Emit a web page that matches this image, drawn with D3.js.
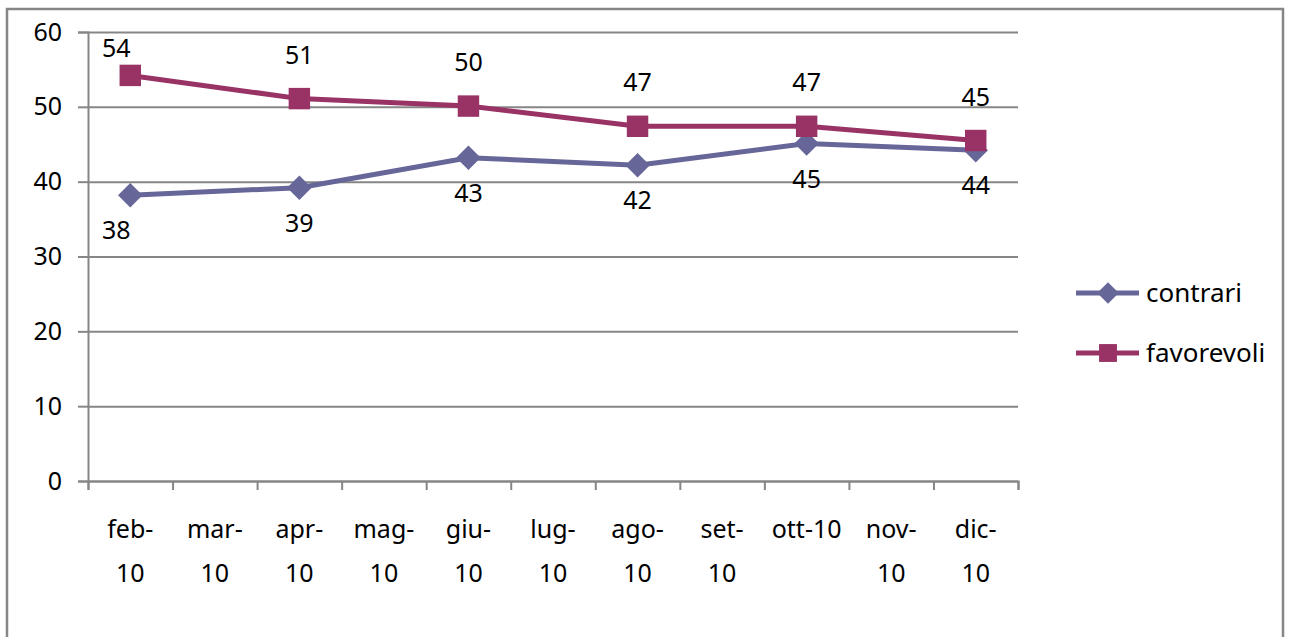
<html>
<script src="https://d3js.org/d3.v7.min.js"></script>
<style>
    body { margin: 0; background: white; }
    text { font-family: "Noto Sans", sans-serif; fill: #000; }
</style>
<body>
<svg id="visual" width="1290" height="637"></svg>
<script>
    // months on the x axis (only every other month has a survey value)
    const months = ["feb-10", "mar-10", "apr-10", "mag-10", "giu-10", "lug-10",
                    "ago-10", "set-10", "ott-10", "nov-10", "dic-10"];
    const contrari   = [38.2, null, 39.2, null, 43.2, null, 42.2, null, 45.1, null, 44.2];
    const favorevoli = [54.2, null, 51.1, null, 50.1, null, 47.4, null, 47.4, null, 45.5];
    const contrariLabels   = ["38", "", "39", "", "43", "", "42", "", "45", "", "44"];
    const favorevoliLabels = ["54", "", "51", "", "50", "", "47", "", "47", "", "45"];
    const yTicks = [0, 10, 20, 30, 40, 50, 60];

    const svg = d3.select("#visual");
    const plotLeft = 88, plotRight = 1018, plotTop = 32, plotBottom = 481;
    const grey = "#868686";
    const fontSize = "25px";

    // outer frame
    svg.append("rect")
        .attr("x", 7).attr("y", 9)
        .attr("width", 1276).attr("height", 640)
        .attr("fill", "white")
        .attr("stroke", grey).attr("stroke-width", 2.5);

    var x = d3.scaleLinear().domain([0, months.length]).range([plotLeft, plotRight]);
    var y = d3.scaleLinear().domain([0, 60]).range([plotBottom, plotTop]);

    // grid lines
    svg.append("g")
        .attr("transform", "translate(" + plotLeft + ",0)")
        .call(d3.axisLeft(y).tickValues(yTicks).tickSize(-(plotRight - plotLeft)).tickFormat(""))
        .call(g => g.select(".domain").remove())
        .selectAll("line").attr("stroke", grey).attr("stroke-width", 2);

    // y axis
    var yAxis = svg.append("g")
        .attr("transform", "translate(" + plotLeft + ",0)")
        .call(d3.axisLeft(y).tickValues(yTicks).tickSize(10).tickPadding(16));
    yAxis.select(".domain").attr("stroke", grey).attr("stroke-width", 2);
    yAxis.selectAll("line").attr("stroke", grey).attr("stroke-width", 2);
    yAxis.selectAll("text").style("font-size", fontSize).style("font-family", "Noto Sans");

    // x axis: ticks at month boundaries
    var xAxis = svg.append("g")
        .attr("transform", "translate(0," + plotBottom + ")")
        .call(d3.axisBottom(x).tickValues(d3.range(months.length + 1)).tickSize(9).tickFormat(""));
    xAxis.select(".domain").attr("stroke", grey).attr("stroke-width", 2);
    xAxis.selectAll("line").attr("stroke", grey).attr("stroke-width", 2);

    // month labels, wrapped after the dash (Excel kept ott-10 on one line)
    months.forEach(function (m, i) {
        var lines = (m == "ott-10") ? [m] : [m.split("-")[0] + "-", m.split("-")[1]];
        var t = svg.append("text")
            .attr("x", x(i + 0.5))
            .attr("y", 538)
            .attr("text-anchor", "middle")
            .style("font-size", fontSize);
        lines.forEach(function (l, j) {
            t.append("tspan").attr("x", x(i + 0.5)).attr("dy", j == 0 ? 0 : 44).text(l);
        });
    });

    // a diamond is a square turned by 45 degrees
    const series = [
        { name: "contrari", values: contrari, labels: contrariLabels, color: "#666699", shape: d3.symbolSquare, size: 300, rotate: 45, labelDy: 44 },
        { name: "favorevoli", values: favorevoli, labels: favorevoliLabels, color: "#993366", shape: d3.symbolSquare, size: 460, rotate: 0, labelDy: -35 }
    ];

    series.forEach(function (s) {
        var pts = s.values.map((v, i) => ({ i: i, v: v, label: s.labels[i] })).filter(d => d.v != null);

        svg.append("path")
            .datum(pts)
            .attr("fill", "none")
            .attr("stroke", s.color)
            .attr("stroke-width", 5)
            .attr("d", d3.line().x(d => x(d.i + 0.5)).y(d => y(d.v)));

        svg.selectAll(null)
            .data(pts)
            .enter()
            .append("path")
            .attr("transform", d => "translate(" + x(d.i + 0.5) + "," + y(d.v) + ") rotate(" + s.rotate + ")")
            .attr("d", d3.symbol().type(s.shape).size(s.size))
            .attr("fill", s.color);

        // labels are kept inside the plot area, like Excel does
        svg.selectAll(null)
            .data(pts)
            .enter()
            .append("text")
            .attr("x", d => x(d.i + 0.5) - (d.i == 0 ? 14 : 0))
            .attr("y", d => Math.max(y(d.v) + s.labelDy, plotTop + 25))
            .attr("text-anchor", "middle")
            .style("font-size", fontSize)
            .text(d => d.label);
    });

    // legend
    var legend = svg.append("g").attr("transform", "translate(1076,293)");
    series.forEach(function (s, k) {
        var g = legend.append("g").attr("transform", "translate(0," + (k * 60) + ")");
        g.append("line").attr("x1", 0).attr("x2", 63).attr("y1", 0).attr("y2", 0)
            .attr("stroke", s.color).attr("stroke-width", 5);
        g.append("path")
            .attr("transform", "translate(32,0) rotate(" + s.rotate + ")")
            .attr("d", d3.symbol().type(s.shape).size(s.name == "contrari" ? 230 : 320))
            .attr("fill", s.color);
        g.append("text").attr("x", 70).attr("y", 9).style("font-size", "26px").text(s.name);
    });
</script>
</body>
</html>
